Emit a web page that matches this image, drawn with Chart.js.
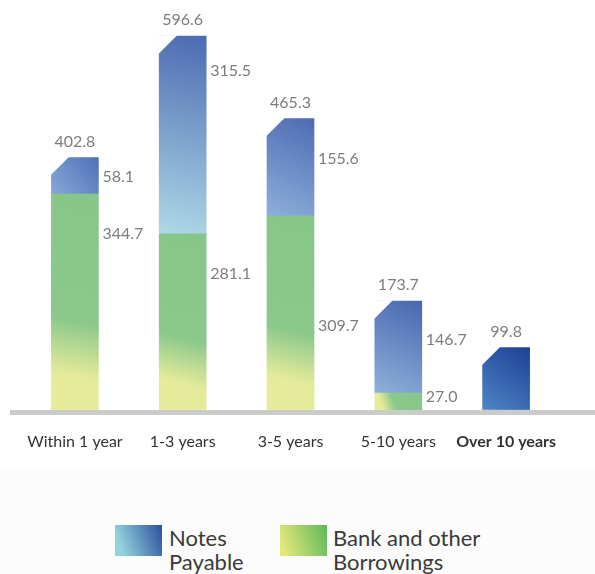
<!DOCTYPE html>
<html>
<head>
<meta charset="utf-8">
<script src="https://cdn.jsdelivr.net/npm/chart.js@4/dist/chart.umd.min.js"></script>
<style>
  html, body { margin: 0; padding: 0; background: #fff; }
  #wrap { width: 595px; height: 470px; position: relative; }
  #legend { width: 595px; height: 104px; background: #fcfcfc; position: relative; overflow: hidden;
            font-family: Lato, sans-serif; font-size: 22px; line-height: 24px; color: #3a3a3a; }
  .sw { position: absolute; top: 55px; width: 47px; height: 31px; }
  .lt { position: absolute; top: 56px; }
</style>
</head>
<body>
<div id="wrap"><canvas id="chart"></canvas></div>
<div id="legend">
  <div class="sw" style="left:115px;background:linear-gradient(70deg,#93d3de 15%,#2c4f9e 100%)"></div>
  <div class="lt" style="left:169px">Notes<br>Payable</div>
  <div class="sw" style="left:280px;background:linear-gradient(70deg,#e2e878 10%,#5cb85c 100%)"></div>
  <div class="lt" style="left:333px">Bank and other<br>Borrowings</div>
</div>
<script>
var categories = ['Within 1 year', '1-3 years', '3-5 years', '5-10 years', 'Over 10 years'];
var bankBorrowings = [344.7, 281.1, 309.7, 27.0, 0];
var notesPayable = [58.1, 315.5, 155.6, 146.7, 99.8];
var totals = [402.8, 596.6, 465.3, 173.7, 99.8];

// per-bar gradient colours (bottom-left -> top-right)
var notesColors = [
    ['#87a8d8', '#5071b6'],
    ['#aed9e6', '#4c6ab2'],
    ['#8eaedb', '#4e6bb2'],
    ['#8fb1d9', '#4866b0'],
    ['#4f84c6', '#1c4194']
];
var sideLabelDrop = {bank: [40, 40, 110, 4, 0], notes: [19, 35, 40, 39, 0]};
var BAR_W = 47;

function segBox(chart, i, from, to) {
    var xs = chart.scales.x, ys = chart.scales.y;
    var cx = xs.getPixelForValue(i);
    return {left: cx - BAR_W / 2, right: cx + BAR_W / 2, bottom: ys.getPixelForValue(from), top: ys.getPixelForValue(to)};
}

function bankFill(c) {
    var chart = c.chart;
    if (!chart.chartArea) return '#88c88a';
    var i = c.dataIndex;
    var b = segBox(chart, i, 0, bankBorrowings[i]);
    var g = chart.ctx.createLinearGradient(b.left, b.bottom, b.right, b.top);
    g.addColorStop(0, '#e6ec9c');
    g.addColorStop(0.17, '#e5eb9b');
    g.addColorStop(0.42, '#8ac88b');
    g.addColorStop(1, '#87c689');
    return g;
}

function notesFill(c) {
    var chart = c.chart;
    if (!chart.chartArea) return '#6a88c4';
    var i = c.dataIndex;
    var b = segBox(chart, i, bankBorrowings[i], bankBorrowings[i] + notesPayable[i]);
    var g = chart.ctx.createLinearGradient(b.left, b.bottom, b.right, b.top);
    g.addColorStop(0, notesColors[i][0]);
    g.addColorStop(1, notesColors[i][1]);
    return g;
}

var decorPlugin = {
    id: 'decor',
    afterDatasetsDraw: function (chart) {
        var ctx = chart.ctx;
        var ys = chart.scales.y;
        var bankMeta = chart.getDatasetMeta(0);
        var notesMeta = chart.getDatasetMeta(1);
        var y0 = ys.getPixelForValue(0);
        ctx.save();
        // baseline
        ctx.fillStyle = '#cbcbcb';
        ctx.fillRect(10, y0, 585, 5);

        ctx.font = '16px Lato, sans-serif';
        for (var i = 0; i < categories.length; i++) {
            var top = notesPayable[i] > 0 ? notesMeta.data[i] : bankMeta.data[i];
            var left = top.x - top.width / 2;
            // chamfered top-left corner
            ctx.fillStyle = '#fff';
            ctx.beginPath();
            ctx.moveTo(left - 1, top.y - 1);
            ctx.lineTo(left + 18, top.y - 1);
            ctx.lineTo(left - 1, top.y + 18);
            ctx.closePath();
            ctx.fill();

            ctx.fillStyle = '#7d7d7d';
            ctx.textAlign = 'center';
            ctx.textBaseline = 'middle';
            ctx.fillText(totals[i].toFixed(1), top.x, top.y - 16);

            ctx.textAlign = 'left';
            var nb = notesMeta.data[i], bb = bankMeta.data[i];
            if (notesPayable[i] > 0 && bankBorrowings[i] > 0) {
                ctx.fillText(notesPayable[i].toFixed(1), nb.x + nb.width / 2 + 4, nb.y + sideLabelDrop.notes[i]);
            }
            if (bankBorrowings[i] > 0) {
                ctx.fillText(bankBorrowings[i].toFixed(1), bb.x + bb.width / 2 + 4, bb.y + sideLabelDrop.bank[i]);
            }
        }
        ctx.restore();
    }
};

new Chart(document.getElementById('chart'), {
    type: 'bar',
    data: {
        labels: categories,
        datasets: [
            {label: 'Bank and other Borrowings', data: bankBorrowings, backgroundColor: bankFill, barThickness: BAR_W},
            {label: 'Notes Payable', data: notesPayable, backgroundColor: notesFill, barThickness: BAR_W}
        ]
    },
    options: {
        responsive: true,
        maintainAspectRatio: false,
        animation: false,
        layout: {padding: {top: 9, left: 21, right: 35, bottom: 0}},
        plugins: {legend: {display: false}, tooltip: {enabled: false}},
        scales: {
            x: {
                stacked: true,
                grid: {display: false, drawTicks: false},
                border: {display: false},
                afterFit: function (s) { s.height = 60; },
                ticks: {
                    padding: 22,
                    color: '#333',
                    font: function (c) {
                        return {family: 'Lato, sans-serif', size: 16, weight: c.index === 4 ? 'bold' : 'normal'};
                    }
                }
            },
            y: {stacked: true, display: false, min: 0, max: 640}
        }
    },
    plugins: [decorPlugin]
});
</script>
</body>
</html>
